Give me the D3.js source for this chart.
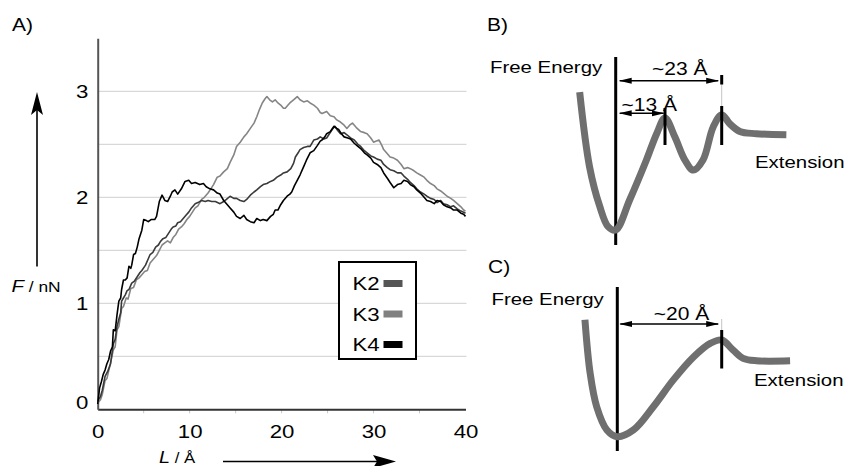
<!DOCTYPE html>
<html>
<head>
<meta charset="utf-8">
<script src="https://cdn.jsdelivr.net/npm/d3@7"></script>
<style>
  html, body { margin: 0; padding: 0; background: #fff; }
  svg { display: block; }
  text { font-family: "Liberation Sans", Arial, Helvetica, sans-serif; fill: #000; }
</style>
</head>
<body>
<svg id="chart" width="846" height="466"></svg>
<script>
// ---------------- DATA ----------------
const xTicks = [0, 10, 20, 30, 40];
const xMinorTicks = [5, 10, 15, 20, 25, 30, 35];
const yTicks = [0, 1, 2, 3];
const yGrid = [0.5, 1, 1.5, 2, 2.5, 3];
const seriesNames = ["K2", "K3", "K4"];
const seriesColors = ["#3a3a3a", "#858585", "#000000"];

const k2L = [0,0.3,0.5,0.8,1.1,1.4,1.7,1.9,2.1,2.3,2.5,2.6,2.8,3.0,3.2,3.4,3.7,4.0,4.3,4.6,4.8,5.2,5.5,5.7,6.0,6.3,6.6,6.8,7.1,7.4,7.7,8.0,8.2,8.5,8.7,9.0,9.3,9.6,9.9,10.2,10.6,10.9,11.3,11.7,12.0,12.4,12.8,13.3,13.7,14.0,14.4,14.8,15.1,15.5,15.9,16.2,16.6,17.0,17.3,17.7,18.0,18.4,18.8,19.1,19.5,19.9,20.2,20.6,21.0,21.3,21.5,21.8,22.0,22.4,22.8,23.1,23.5,23.9,24.2,24.6,24.9,25.2,25.5,25.8,26.1,26.4,26.8,27.1,27.5,27.9,28.3,28.6,29.0,29.3,29.7,30.0,30.4,30.8,31.1,31.5,31.8,32.2,32.6,33.0,33.3,33.7,34.0,34.4,34.7,35.1,35.5,35.8,36.2,36.6,36.9,37.3,37.6,38.0,38.4,38.7,39.1,39.5,39.8,40.0];
const k2F = [0.08,0.12,0.18,0.31,0.36,0.43,0.62,0.66,0.78,0.85,0.91,1.02,1.05,1.08,1.12,1.13,1.19,1.21,1.25,1.29,1.31,1.36,1.42,1.46,1.48,1.53,1.55,1.58,1.61,1.62,1.66,1.70,1.72,1.73,1.76,1.77,1.80,1.83,1.86,1.90,1.94,1.95,1.97,1.96,1.97,1.96,1.96,1.94,1.96,1.98,2.01,1.99,1.99,1.97,1.96,1.98,2.02,2.05,2.07,2.10,2.12,2.13,2.15,2.16,2.19,2.21,2.23,2.24,2.27,2.32,2.38,2.42,2.45,2.47,2.48,2.48,2.54,2.55,2.57,2.55,2.56,2.60,2.64,2.67,2.63,2.60,2.61,2.59,2.56,2.54,2.50,2.48,2.44,2.42,2.39,2.38,2.36,2.35,2.31,2.28,2.26,2.25,2.23,2.23,2.20,2.17,2.14,2.11,2.08,2.05,2.03,2.01,1.99,1.98,1.95,1.97,1.94,1.93,1.91,1.92,1.89,1.87,1.86,1.85];

const k3L = [0,0.3,0.5,0.8,1.0,1.3,1.5,1.7,1.9,2.1,2.3,2.6,2.8,3.1,3.3,3.6,3.9,4.2,4.5,4.8,5.1,5.4,5.7,6.0,6.4,6.7,7.0,7.3,7.6,7.9,8.2,8.5,8.8,9.1,9.4,9.7,10.0,10.3,10.6,10.9,11.3,11.6,12.0,12.3,12.6,13.0,13.3,13.7,14.1,14.4,14.8,15.1,15.5,15.9,16.2,16.6,17.0,17.3,17.6,17.9,18.2,18.4,18.7,19.0,19.3,19.6,19.9,20.2,20.4,20.7,20.9,21.3,21.7,22.0,22.4,22.8,23.1,23.5,23.9,24.2,24.4,24.9,25.3,25.7,26.0,26.4,26.8,27.1,27.4,27.7,28.1,28.6,29.0,29.3,29.7,30.0,30.3,30.6,30.9,31.1,31.5,31.8,32.2,32.6,33.0,33.3,33.7,34.0,34.4,34.7,35.1,35.5,35.8,36.2,36.6,36.9,37.3,37.6,38.0,38.4,38.7,39.1,39.5,39.8,40.0];
const k3F = [0.06,0.09,0.14,0.27,0.29,0.40,0.48,0.56,0.59,0.75,0.78,0.95,0.97,1.05,1.04,1.14,1.15,1.22,1.24,1.27,1.30,1.31,1.38,1.41,1.45,1.50,1.55,1.57,1.59,1.57,1.62,1.65,1.70,1.72,1.75,1.79,1.82,1.86,1.90,1.92,1.98,2.00,2.04,2.08,2.12,2.19,2.20,2.24,2.27,2.33,2.40,2.48,2.52,2.57,2.60,2.65,2.70,2.76,2.83,2.89,2.93,2.95,2.92,2.90,2.92,2.89,2.87,2.84,2.84,2.87,2.89,2.92,2.95,2.92,2.90,2.91,2.89,2.87,2.84,2.80,2.79,2.81,2.77,2.76,2.73,2.71,2.68,2.65,2.68,2.70,2.66,2.62,2.61,2.60,2.56,2.52,2.53,2.54,2.49,2.45,2.41,2.38,2.37,2.35,2.31,2.27,2.28,2.27,2.25,2.23,2.21,2.19,2.16,2.13,2.11,2.08,2.06,2.04,2.01,1.99,1.97,1.94,1.91,1.88,1.87];

const k4L = [0,0.2,0.4,0.6,0.8,1.0,1.2,1.4,1.6,1.7,1.9,2.1,2.3,2.5,2.6,2.8,3.0,3.2,3.4,3.6,3.7,3.9,4.1,4.3,4.5,4.8,5.0,5.3,5.5,5.8,6.2,6.4,6.7,7.0,7.3,7.6,7.9,8.1,8.4,8.7,9.1,9.5,9.9,10.2,10.6,11.1,11.5,11.8,12.2,12.6,13.0,13.3,13.7,14.1,14.4,14.8,15.1,15.5,15.9,16.2,16.6,17.0,17.3,17.7,18.0,18.4,18.8,19.1,19.3,19.6,19.9,20.2,20.6,20.9,21.1,21.4,21.7,22.0,22.4,22.7,23.1,23.5,23.9,24.2,24.4,24.7,24.9,25.3,25.7,26.0,26.2,26.5,26.8,27.2,27.5,27.9,28.3,28.6,29.0,29.3,29.7,30.0,30.4,30.8,31.1,31.5,31.8,32.2,32.6,33.0,33.3,33.7,34.0,34.4,34.7,35.1,35.5,35.8,36.2,36.6,36.9,37.3,37.6,38.0,38.4,38.7,39.1,39.5,39.8,40.0];
const k4F = [0.05,0.20,0.26,0.33,0.37,0.43,0.47,0.55,0.59,0.75,0.74,0.89,1.02,1.05,1.13,1.22,1.22,1.24,1.35,1.33,1.36,1.46,1.47,1.53,1.61,1.69,1.79,1.78,1.77,1.79,1.79,1.82,1.96,2.02,1.97,1.96,2.01,2.05,2.07,2.03,2.08,2.15,2.16,2.13,2.14,2.12,2.13,2.10,2.08,2.07,2.04,2.03,1.97,1.93,1.90,1.86,1.82,1.80,1.83,1.79,1.77,1.76,1.80,1.78,1.79,1.78,1.82,1.84,1.88,1.88,1.93,1.97,2.01,2.03,2.05,2.11,2.16,2.21,2.29,2.35,2.42,2.44,2.49,2.53,2.54,2.57,2.60,2.62,2.67,2.65,2.64,2.60,2.57,2.56,2.55,2.51,2.48,2.46,2.42,2.40,2.37,2.33,2.31,2.28,2.23,2.18,2.14,2.09,2.12,2.13,2.16,2.15,2.12,2.10,2.07,2.04,2.00,1.97,1.96,1.94,1.97,1.96,1.93,1.91,1.90,1.88,1.88,1.85,1.84,1.82];

// Schematic free-energy profiles (extension in Å, energy in arbitrary units)
const profileBX = [-9.5,-6.9,-4.2,-2.0,0,3.7,8.1,10.8,13,14.75,16.5,18,19.7,21.5,23,24.4,26.2,29.1,34.4];
const profileBE = [12.3,5.65,2.1,0.3,0,2.7,6.25,8.6,10,8.3,6.25,5.35,6.25,9.2,10.3,9.5,8.8,8.6,8.5];
const barriersB = [13, 23];
const profileCX = [-6.2,-5.2,-3.95,-2.0,0,3.1,6.9,10.7,14.6,17.8,20,22.2,24.1,26.7,33.1];
const profileCE = [12.1,6.55,3.1,0.7,0,0.7,3.1,5.85,8.25,9.65,10,8.95,8.1,7.85,7.85];
const barriersC = [20];

// ---------------- DRAW ----------------
const svg = d3.select("#chart");
const SX = 1.2; // horizontal text stretch of the original figure

function txt(parent, x, y, str, size, anchor) {
  return parent.append("text")
    .attr("transform", `translate(${x},${y}) scale(${SX},1)`)
    .attr("text-anchor", anchor || "start")
    .style("font-size", size + "px")
    .text(str);
}

const defs = svg.append("defs");
defs.append("marker").attr("id", "ah")
  .attr("markerUnits", "userSpaceOnUse")
  .attr("markerWidth", 13).attr("markerHeight", 7)
  .attr("refX", 12).attr("refY", 3.5)
  .attr("orient", "auto-start-reverse")
  .append("path").attr("d", "M0,0.5 L13,3.5 L0,6.5 Z").attr("fill", "#000");

// ---------- Panel A ----------
const x = d3.scaleLinear().domain([0, 40]).range([97.7, 465.5]);
const y = d3.scaleLinear().domain([0, 3.5]).range([409.3, 38.3]);

const gA = svg.append("g");
txt(gA, 12, 31, "A)", 17.5);

gA.append("g").selectAll("line").data(yGrid).join("line")
  .attr("x1", x(0)).attr("x2", x(40) + 1)
  .attr("y1", d => y(d)).attr("y2", d => y(d))
  .attr("stroke", "#cfcfcf").attr("stroke-width", 1);

gA.append("g").selectAll("line").data(xMinorTicks).join("line")
  .attr("x1", d => x(d)).attr("x2", d => x(d))
  .attr("y1", y(0)).attr("y2", y(0) + 4)
  .attr("stroke", "#c8c8c8").attr("stroke-width", 1);

const xAxis = gA.append("g").attr("transform", `translate(0,${y(0)})`)
  .call(d3.axisBottom(x).tickValues(xTicks).tickFormat(d3.format("d"))
    .tickSize(0).tickSizeOuter(0).tickPadding(15.5));
xAxis.select(".domain").attr("stroke", "#333").attr("stroke-width", 2);
xAxis.selectAll("text").attr("transform", `scale(${SX},1)`)
  .style("font-size", "18.5px").style("font-family", "Liberation Sans, Arial, sans-serif").attr("fill", "#000");

const yAxis = gA.append("g").attr("transform", `translate(${x(0)},0)`)
  .call(d3.axisLeft(y).tickValues(yTicks).tickFormat(d3.format("d"))
    .tickSize(0).tickSizeOuter(0).tickPadding(7.8));
yAxis.select(".domain").attr("stroke", "#555").attr("stroke-width", 2);
yAxis.selectAll("text").attr("transform", `scale(${SX},1)`)
  .style("font-size", "18.5px").style("font-family", "Liberation Sans, Arial, sans-serif").attr("fill", "#000")
  .attr("dy", d => d === 0 ? "-0.05em" : "0.34em");

const line = d3.line().x(d => x(d[0])).y(d => y(d[1]));
const series = [
  { name: "K3", L: k3L, F: k3F, color: seriesColors[1] },
  { name: "K2", L: k2L, F: k2F, color: seriesColors[0] },
  { name: "K4", L: k4L, F: k4F, color: seriesColors[2] }
];
gA.append("g").selectAll("path").data(series).join("path")
  .attr("d", s => line(s.L.map((l, i) => [l, s.F[i]])))
  .attr("fill", "none").attr("stroke", s => s.color)
  .attr("stroke-width", 1.6).attr("stroke-linejoin", "round");

// Legend
const leg = gA.append("g");
leg.append("rect").attr("x", 339).attr("y", 262).attr("width", 77).attr("height", 97)
  .attr("fill", "#fff").attr("stroke", "#000").attr("stroke-width", 2);
const legendColors = ["#555555", "#808080", "#000000"];
seriesNames.forEach((n, i) => {
  const cy = 283.5 + i * 30.5;
  txt(leg, 352.5, cy + 6.5, n, 18.5);
  leg.append("rect").attr("x", 383.5).attr("y", cy - 3.5).attr("width", 19).attr("height", 7)
    .attr("fill", legendColors[i]);
});

// Axis titles with arrows
const yt = gA.append("text").attr("transform", `translate(11.5,291.5) scale(${SX},1)`);
yt.append("tspan").text("F").style("font-style", "italic").style("font-size", "17px");
yt.append("tspan").text(" / nN").style("font-size", "14.5px");
gA.append("line").attr("x1", 37).attr("x2", 37).attr("y1", 266.5).attr("y2", 108)
  .attr("stroke", "#000").attr("stroke-width", 1.6);
gA.append("path").attr("d", "M37,92 L43,115 L37,110 L31,115 Z").attr("fill", "#000");

const xt = gA.append("text").attr("transform", `translate(159,462.5) scale(${SX},1)`);
xt.append("tspan").text("L").style("font-style", "italic").style("font-size", "16.5px");
xt.append("tspan").text(" / Å").style("font-size", "14px");
gA.append("line").attr("x1", 223).attr("x2", 385).attr("y1", 461.5).attr("y2", 461.5)
  .attr("stroke", "#000").attr("stroke-width", 1.6);
gA.append("path").attr("d", "M396,461.5 L373,455 L377,461.5 L373,468 Z").attr("fill", "#000");

// ---------- Panels B and C ----------
function energyPanel(opt) {
  const g = svg.append("g");
  const xs = d3.scaleLinear().domain(opt.xDomain).range(opt.xRange);
  const ys = d3.scaleLinear().domain([0, 10]).range(opt.yRange);
  txt(g, opt.labelX, opt.labelY, opt.label, 17.5);
  txt(g, opt.feX, opt.feY, "Free Energy", 17);
  txt(g, opt.extX, opt.extY, "Extension", 17);
  g.append("line").attr("x1", xs(0)).attr("x2", xs(0))
    .attr("y1", opt.vTop).attr("y2", opt.vBottom)
    .attr("stroke", "#000").attr("stroke-width", 3);
  const pl = d3.line().x(d => xs(d[0])).y(d => ys(d[1])).curve(d3.curveCatmullRom.alpha(0.5));
  g.append("path").attr("d", pl(opt.px.map((v, i) => [v, opt.pe[i]])))
    .attr("fill", "none").attr("stroke", "#6f6f6f").attr("stroke-width", 7)
    .attr("stroke-linejoin", "round");
  return { g, xs, ys };
}

// Panel B
const B = energyPanel({
  xDomain: [0, 13, 23], xRange: [615.7, 665, 721.7], yRange: [230, 118],
  px: profileBX, pe: profileBE, label: "B)", labelX: 487, labelY: 31,
  feX: 490, feY: 72.5, extX: 755, extY: 168, vTop: 57, vBottom: 245
});
B.g.append("line").attr("x1", B.xs(barriersB[0])).attr("x2", B.xs(barriersB[0]))
  .attr("y1", 108).attr("y2", 145).attr("stroke", "#000").attr("stroke-width", 3);
B.g.append("line").attr("x1", B.xs(barriersB[1])).attr("x2", B.xs(barriersB[1]))
  .attr("y1", 106).attr("y2", 145).attr("stroke", "#000").attr("stroke-width", 3);
B.g.append("line").attr("x1", B.xs(barriersB[1])).attr("x2", B.xs(barriersB[1]))
  .attr("y1", 84).attr("y2", 106).attr("stroke", "#c4c4c4").attr("stroke-width", 1);
B.g.append("line").attr("x1", B.xs(barriersB[1])).attr("x2", B.xs(barriersB[1]))
  .attr("y1", 75).attr("y2", 84.5).attr("stroke", "#000").attr("stroke-width", 3);
B.g.append("line").attr("x1", B.xs(0) + 4).attr("x2", B.xs(barriersB[1]) - 3.5)
  .attr("y1", 80.7).attr("y2", 80.7).attr("stroke", "#000").attr("stroke-width", 1.5)
  .attr("marker-start", "url(#ah)").attr("marker-end", "url(#ah)");
B.g.append("line").attr("x1", B.xs(0) + 4).attr("x2", B.xs(barriersB[0]) - 1.5)
  .attr("y1", 113.3).attr("y2", 113.3).attr("stroke", "#000").attr("stroke-width", 1.5)
  .attr("marker-start", "url(#ah)").attr("marker-end", "url(#ah)");
txt(B.g, 679.7, 75, "~23 Å", 17.5, "middle");
txt(B.g, 621.5, 110.5, "~13 Å", 17.5, "start");

// Panel C
const C = energyPanel({
  xDomain: [0, 20], xRange: [617.3, 721.7], yRange: [436.7, 340],
  px: profileCX, pe: profileCE, label: "C)", labelX: 488, labelY: 273,
  feX: 491.5, feY: 305, extX: 754, extY: 386, vTop: 287, vBottom: 451
});
C.g.append("line").attr("x1", C.xs(barriersC[0])).attr("x2", C.xs(barriersC[0]))
  .attr("y1", 330).attr("y2", 368.5).attr("stroke", "#000").attr("stroke-width", 3);
C.g.append("line").attr("x1", C.xs(barriersC[0])).attr("x2", C.xs(barriersC[0]))
  .attr("y1", 319).attr("y2", 330).attr("stroke", "#c4c4c4").attr("stroke-width", 1);
C.g.append("line").attr("x1", C.xs(0) + 3).attr("x2", C.xs(barriersC[0]) - 3.5)
  .attr("y1", 324).attr("y2", 324).attr("stroke", "#000").attr("stroke-width", 1.5)
  .attr("marker-start", "url(#ah)").attr("marker-end", "url(#ah)");
txt(C.g, 681.5, 319.5, "~20 Å", 17.5, "middle");
</script>
</body>
</html>
